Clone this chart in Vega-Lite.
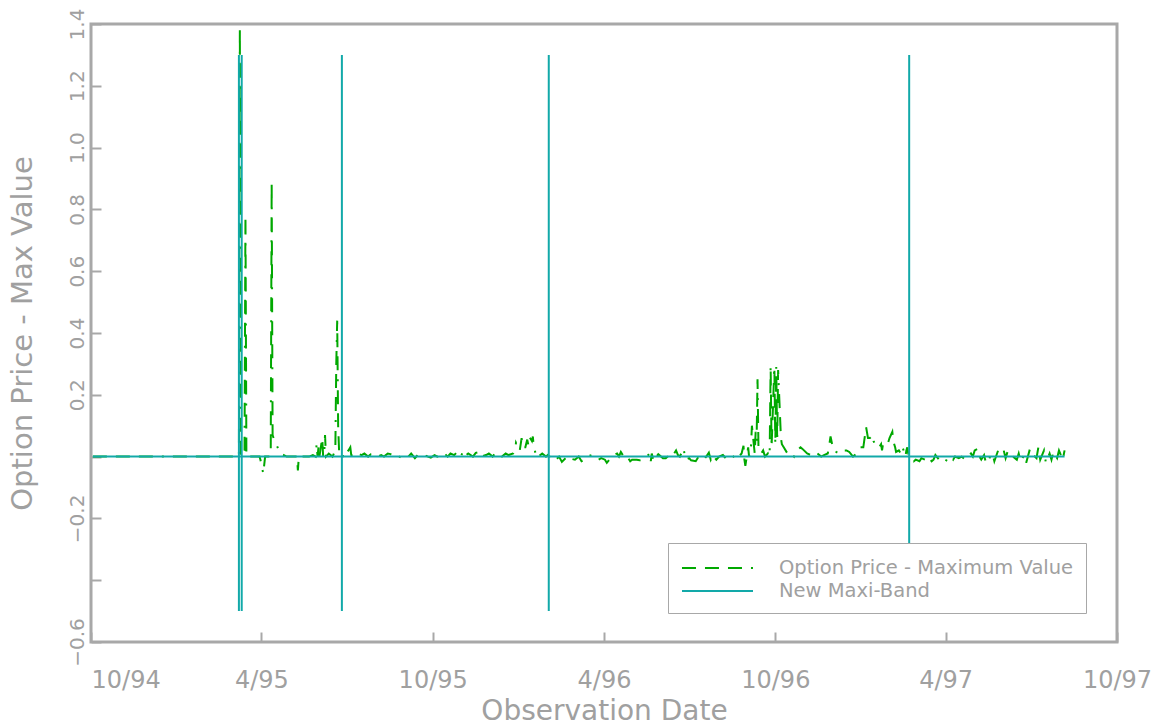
{
"$schema":"https://vega.github.io/schema/vega-lite/v6.json",
"width":1026,"height":618,
"autosize":{"type":"none"},
"padding":{"left":91,"top":24,"right":54,"bottom":83},
"background":"white",
"config":{
 "font":"DejaVu Sans",
 "view":{"stroke":"#a8a8a8","strokeWidth":3},
 "axis":{"domain":false,"grid":false,"tickColor":"#a8a8a8","tickWidth":2,"tickSize":-10,"labelColor":"#a0a0a0","titleColor":"#a0a0a0","titleFontWeight":"normal","labelFont":"DejaVu Sans","titleFont":"DejaVu Sans","labelOverlap":false,"labelBound":false,"labelFlush":false}
},
"encoding":{
 "x":{"field":"d","type":"temporal",
  "scale":{"type":"utc","domain":[{"year":1994,"month":10,"date":1,"utc":true},{"year":1997,"month":10,"date":1,"utc":true}]},
  "axis":{"values":[{"year":1994,"month":10,"date":1,"utc":true},{"year":1995,"month":4,"date":1,"utc":true},{"year":1995,"month":10,"date":1,"utc":true},{"year":1996,"month":4,"date":1,"utc":true},{"year":1996,"month":10,"date":1,"utc":true},{"year":1997,"month":4,"date":1,"utc":true},{"year":1997,"month":10,"date":1,"utc":true}],
   "labelExpr":"utcFormat(datum.value, '%-m/%y')","labelFontSize":24,"labelPadding":36,
   "labelAlign":{"condition":{"test":"datum.value < 788918400000","value":"left"},"value":"center"},
   "title":"Observation Date","titleFontSize":28,"titlePadding":5}},
 "y":{"field":"v","type":"quantitative",
  "scale":{"domain":[-0.6,1.4],"nice":false,"zero":false},
  "axis":{"values":[-0.6,-0.4,-0.2,0,0.2,0.4,0.6,0.8,1.0,1.2,1.4],
   "labelExpr":"abs(datum.value)<1e-6 || abs(datum.value+0.4)<1e-6 ? '' : format(datum.value,'.1f')",
   "labelAngle":-90,"labelAlign":"center","labelBaseline":"alphabetic","labelFontSize":20,"labelPadding":18,
   "title":"Option Price - Max Value","titleFontSize":29,"titlePadding":30}}
},
"layer":[
{"data":{"values":[
{"d":"1994-10-03","v":0},{"d":"1995-03-07","v":0},{"d":"1995-03-08","v":0},{"d":"1995-03-09","v":1.38},{"d":"1995-03-10","v":0},{"d":"1995-03-13","v":0.01},{"d":"1995-03-14","v":0.02},{"d":"1995-03-15","v":0.78},{"d":"1995-03-16","v":0},{"d":"1995-03-20","v":0},{"d":"1995-03-24","v":0},{"d":"1995-03-30","v":0},{"d":"1995-03-31","v":-0.01},{"d":"1995-04-03","v":-0.055},{"d":"1995-04-05","v":0},{"d":"1995-04-10","v":0},{"d":"1995-04-11","v":0.01},{"d":"1995-04-12","v":0.88},{"d":"1995-04-13","v":0.07},{"d":"1995-04-14","v":0.06},{"d":"1995-04-17","v":0.04},{"d":"1995-04-19","v":0.025},{"d":"1995-04-21","v":0.01},{"d":"1995-04-25","v":0.005},{"d":"1995-04-28","v":0},{"d":"1995-05-03","v":0},{"d":"1995-05-09","v":0},{"d":"1995-05-10","v":-0.045},{"d":"1995-05-11","v":0},{"d":"1995-05-16","v":0},{"d":"1995-05-22","v":0},{"d":"1995-05-26","v":0.005},{"d":"1995-05-29","v":0},{"d":"1995-05-30","v":0.04},{"d":"1995-05-31","v":0},{"d":"1995-06-01","v":0.03},{"d":"1995-06-02","v":0},{"d":"1995-06-05","v":0.06},{"d":"1995-06-06","v":0},{"d":"1995-06-07","v":0},{"d":"1995-06-08","v":0.07},{"d":"1995-06-09","v":0},{"d":"1995-06-12","v":0.01},{"d":"1995-06-16","v":0},{"d":"1995-06-19","v":0.02},{"d":"1995-06-20","v":0.3},{"d":"1995-06-21","v":0.44},{"d":"1995-06-22","v":0.1},{"d":"1995-06-23","v":0.02},{"d":"1995-06-26","v":0},{"d":"1995-06-27","v":0.005},{"d":"1995-06-28","v":-0.005},{"d":"1995-06-30","v":0.01},{"d":"1995-07-03","v":0.02},{"d":"1995-07-05","v":0.03},{"d":"1995-07-06","v":0.005},{"d":"1995-07-10","v":0},{"d":"1995-07-13","v":0.01},{"d":"1995-07-17","v":0.005},{"d":"1995-07-20","v":0.01},{"d":"1995-07-24","v":0},{"d":"1995-07-27","v":0.008},{"d":"1995-07-31","v":0.008},{"d":"1995-08-03","v":0},{"d":"1995-08-07","v":0.005},{"d":"1995-08-10","v":0},{"d":"1995-08-14","v":0.01},{"d":"1995-08-17","v":0.008},{"d":"1995-08-21","v":0},{"d":"1995-08-24","v":0.005},{"d":"1995-08-28","v":-0.003},{"d":"1995-08-31","v":0.005},{"d":"1995-09-05","v":0},{"d":"1995-09-08","v":0.01},{"d":"1995-09-12","v":-0.005},{"d":"1995-09-15","v":0.005},{"d":"1995-09-19","v":0},{"d":"1995-09-22","v":0.005},{"d":"1995-09-26","v":0},{"d":"1995-09-29","v":-0.003},{"d":"1995-10-03","v":0.005},{"d":"1995-10-06","v":0},{"d":"1995-10-10","v":0.005},{"d":"1995-10-13","v":0.012},{"d":"1995-10-17","v":0},{"d":"1995-10-20","v":0.01},{"d":"1995-10-24","v":0.005},{"d":"1995-10-27","v":0.015},{"d":"1995-10-31","v":0},{"d":"1995-11-03","v":0.02},{"d":"1995-11-06","v":0.005},{"d":"1995-11-08","v":0.01},{"d":"1995-11-13","v":0},{"d":"1995-11-16","v":0.012},{"d":"1995-11-20","v":0.015},{"d":"1995-11-22","v":0},{"d":"1995-11-27","v":0.005},{"d":"1995-11-30","v":0.01},{"d":"1995-12-04","v":0},{"d":"1995-12-07","v":0.012},{"d":"1995-12-11","v":0.005},{"d":"1995-12-14","v":0},{"d":"1995-12-18","v":0.01},{"d":"1995-12-21","v":0.005},{"d":"1995-12-26","v":0.01},{"d":"1995-12-28","v":0.02},{"d":"1995-12-29","v":0.045},{"d":"1996-01-02","v":0.02},{"d":"1996-01-04","v":0.06},{"d":"1996-01-05","v":0.03},{"d":"1996-01-08","v":0.03},{"d":"1996-01-10","v":0.055},{"d":"1996-01-11","v":0.04},{"d":"1996-01-12","v":0.065},{"d":"1996-01-15","v":0.05},{"d":"1996-01-16","v":0.065},{"d":"1996-01-17","v":0.03},{"d":"1996-01-19","v":0.01},{"d":"1996-01-22","v":0.02},{"d":"1996-01-24","v":0.005},{"d":"1996-01-26","v":0.01},{"d":"1996-01-30","v":0},{"d":"1996-02-01","v":0.005},{"d":"1996-02-02","v":0},{"d":"1996-02-05","v":0},{"d":"1996-02-07","v":-0.005},{"d":"1996-02-09","v":-0.012},{"d":"1996-02-13","v":0},{"d":"1996-02-16","v":-0.017},{"d":"1996-02-20","v":-0.005},{"d":"1996-02-23","v":-0.015},{"d":"1996-02-27","v":-0.008},{"d":"1996-03-01","v":-0.01},{"d":"1996-03-05","v":0},{"d":"1996-03-08","v":-0.015},{"d":"1996-03-12","v":-0.01},{"d":"1996-03-14","v":0},{"d":"1996-03-19","v":0.005},{"d":"1996-03-22","v":-0.005},{"d":"1996-03-26","v":-0.01},{"d":"1996-03-29","v":-0.005},{"d":"1996-04-02","v":-0.01},{"d":"1996-04-04","v":-0.02},{"d":"1996-04-08","v":-0.005},{"d":"1996-04-11","v":0.005},{"d":"1996-04-15","v":0.01},{"d":"1996-04-17","v":0},{"d":"1996-04-19","v":0.015},{"d":"1996-04-22","v":0},{"d":"1996-04-24","v":-0.005},{"d":"1996-04-26","v":0},{"d":"1996-04-29","v":-0.015},{"d":"1996-05-01","v":-0.01},{"d":"1996-05-06","v":-0.01},{"d":"1996-05-09","v":-0.012},{"d":"1996-05-13","v":-0.01},{"d":"1996-05-15","v":-0.008},{"d":"1996-05-17","v":0},{"d":"1996-05-20","v":0.012},{"d":"1996-05-21","v":-0.015},{"d":"1996-05-22","v":0.01},{"d":"1996-05-24","v":-0.015},{"d":"1996-05-27","v":0},{"d":"1996-05-29","v":0.008},{"d":"1996-06-03","v":-0.005},{"d":"1996-06-06","v":-0.005},{"d":"1996-06-10","v":0.005},{"d":"1996-06-13","v":0},{"d":"1996-06-17","v":0.02},{"d":"1996-06-19","v":0.005},{"d":"1996-06-21","v":0},{"d":"1996-06-25","v":0.027},{"d":"1996-06-27","v":-0.01},{"d":"1996-07-01","v":-0.005},{"d":"1996-07-03","v":-0.012},{"d":"1996-07-08","v":-0.015},{"d":"1996-07-11","v":0},{"d":"1996-07-15","v":-0.01},{"d":"1996-07-18","v":-0.005},{"d":"1996-07-22","v":0.013},{"d":"1996-07-24","v":-0.01},{"d":"1996-07-26","v":0.005},{"d":"1996-07-30","v":-0.01},{"d":"1996-08-02","v":0},{"d":"1996-08-06","v":0.005},{"d":"1996-08-09","v":-0.005},{"d":"1996-08-13","v":-0.012},{"d":"1996-08-16","v":-0.005},{"d":"1996-08-20","v":0.01},{"d":"1996-08-23","v":0},{"d":"1996-08-26","v":0.01},{"d":"1996-08-28","v":0.035},{"d":"1996-08-29","v":-0.01},{"d":"1996-08-30","v":-0.03},{"d":"1996-09-02","v":0.03},{"d":"1996-09-03","v":0},{"d":"1996-09-04","v":0.02},{"d":"1996-09-05","v":0.03},{"d":"1996-09-06","v":0.1},{"d":"1996-09-09","v":0.01},{"d":"1996-09-10","v":0.08},{"d":"1996-09-11","v":0.05},{"d":"1996-09-12","v":0.25},{"d":"1996-09-13","v":0.03},{"d":"1996-09-16","v":0.01},{"d":"1996-09-18","v":0.02},{"d":"1996-09-20","v":0},{"d":"1996-09-23","v":0.01},{"d":"1996-09-24","v":0},{"d":"1996-09-25","v":0.02},{"d":"1996-09-26","v":0.295},{"d":"1996-09-27","v":0.03},{"d":"1996-09-30","v":0.29},{"d":"1996-10-01","v":0.04},{"d":"1996-10-02","v":0.29},{"d":"1996-10-03","v":0.05},{"d":"1996-10-04","v":0.28},{"d":"1996-10-07","v":0.06},{"d":"1996-10-08","v":0.04},{"d":"1996-10-10","v":0.03},{"d":"1996-10-14","v":0.01},{"d":"1996-10-17","v":0.015},{"d":"1996-10-21","v":0},{"d":"1996-10-24","v":0.02},{"d":"1996-10-28","v":0.03},{"d":"1996-10-30","v":0.025},{"d":"1996-11-04","v":0.01},{"d":"1996-11-08","v":0.005},{"d":"1996-11-12","v":0.015},{"d":"1996-11-15","v":0.01},{"d":"1996-11-19","v":0},{"d":"1996-11-22","v":0.005},{"d":"1996-11-26","v":0.01},{"d":"1996-11-27","v":0.025},{"d":"1996-11-29","v":0.065},{"d":"1996-12-02","v":0.02},{"d":"1996-12-05","v":0.015},{"d":"1996-12-09","v":0.01},{"d":"1996-12-12","v":0.02},{"d":"1996-12-16","v":0.02},{"d":"1996-12-19","v":0.015},{"d":"1996-12-23","v":0},{"d":"1996-12-27","v":0.01},{"d":"1996-12-31","v":0.03},{"d":"1997-01-03","v":0.03},{"d":"1997-01-06","v":0.095},{"d":"1997-01-08","v":0.06},{"d":"1997-01-10","v":0.06},{"d":"1997-01-13","v":0.07},{"d":"1997-01-14","v":0.05},{"d":"1997-01-16","v":0.035},{"d":"1997-01-17","v":0.03},{"d":"1997-01-20","v":0.03},{"d":"1997-01-22","v":0.04},{"d":"1997-01-23","v":0.02},{"d":"1997-01-24","v":0.04},{"d":"1997-01-27","v":0.035},{"d":"1997-01-29","v":0.04},{"d":"1997-01-31","v":0.06},{"d":"1997-02-03","v":0.08},{"d":"1997-02-04","v":0.05},{"d":"1997-02-06","v":0.03},{"d":"1997-02-07","v":0.015},{"d":"1997-02-10","v":0.02},{"d":"1997-02-12","v":0.01},{"d":"1997-02-14","v":0.03},{"d":"1997-02-17","v":0},{"d":"1997-02-18","v":0.02},{"d":"1997-02-19","v":0.03},{"d":"1997-02-20","v":0.01},{"d":"1997-02-21","v":0},{"d":"1997-02-24","v":-0.005},{"d":"1997-02-26","v":-0.015},{"d":"1997-02-28","v":-0.01},{"d":"1997-03-04","v":-0.015},{"d":"1997-03-06","v":-0.005},{"d":"1997-03-10","v":-0.01},{"d":"1997-03-13","v":0},{"d":"1997-03-17","v":-0.015},{"d":"1997-03-19","v":-0.01},{"d":"1997-03-21","v":0.005},{"d":"1997-03-25","v":-0.01},{"d":"1997-03-28","v":-0.005},{"d":"1997-04-01","v":-0.015},{"d":"1997-04-03","v":-0.005},{"d":"1997-04-07","v":0},{"d":"1997-04-09","v":-0.01},{"d":"1997-04-11","v":0},{"d":"1997-04-15","v":-0.005},{"d":"1997-04-18","v":0},{"d":"1997-04-22","v":-0.01},{"d":"1997-04-25","v":0},{"d":"1997-04-28","v":0.01},{"d":"1997-04-30","v":0},{"d":"1997-05-02","v":0.02},{"d":"1997-05-05","v":0.025},{"d":"1997-05-07","v":0},{"d":"1997-05-09","v":-0.01},{"d":"1997-05-12","v":0.005},{"d":"1997-05-14","v":-0.02},{"d":"1997-05-16","v":-0.02},{"d":"1997-05-19","v":0.005},{"d":"1997-05-21","v":0.01},{"d":"1997-05-23","v":-0.015},{"d":"1997-05-27","v":0.02},{"d":"1997-05-29","v":0.01},{"d":"1997-06-02","v":0.02},{"d":"1997-06-04","v":-0.005},{"d":"1997-06-06","v":0.015},{"d":"1997-06-10","v":0.015},{"d":"1997-06-12","v":0},{"d":"1997-06-16","v":-0.01},{"d":"1997-06-18","v":0.01},{"d":"1997-06-20","v":-0.015},{"d":"1997-06-24","v":0.005},{"d":"1997-06-26","v":-0.02},{"d":"1997-06-30","v":0.025},{"d":"1997-07-02","v":0.01},{"d":"1997-07-07","v":-0.005},{"d":"1997-07-09","v":0.03},{"d":"1997-07-11","v":-0.01},{"d":"1997-07-15","v":0.02},{"d":"1997-07-17","v":-0.02},{"d":"1997-07-21","v":0.01},{"d":"1997-07-23","v":-0.01},{"d":"1997-07-25","v":0.015},{"d":"1997-07-29","v":-0.005},{"d":"1997-07-31","v":0.02},{"d":"1997-08-04","v":-0.01},{"d":"1997-08-06","v":0.02}
]},
"mark":{"type":"line","strokeWidth":2},
"encoding":{
 "color":{"datum":"Option Price - Maximum Value","scale":{"domain":["Option Price - Maximum Value","New Maxi-Band"],"range":["#00a800","#12a9a9"]},
  "legend":{"title":null,"orient":"none","legendX":577,"legendY":519,"fillColor":"white","strokeColor":"#a8a8a8","padding":12,"symbolType":"M-2.96,0H2.96","symbolSize":576,"symbolStrokeWidth":2,"symbolOffset":24.5,"labelOffset":48.5,"labelFontSize":19.5,"labelLimit":0,"labelColor":"#a0a0a0","labelFont":"DejaVu Sans","rowPadding":0}},
 "strokeDash":{"datum":"Option Price - Maximum Value","scale":{"domain":["Option Price - Maximum Value","New Maxi-Band"],"range":[[14,9,14,9,14,9,2,9],[1,0]]},
  "legend":{"title":null,"orient":"none","legendX":577,"legendY":519,"fillColor":"white","strokeColor":"#a8a8a8","padding":12,"symbolType":"M-2.96,0H2.96","symbolSize":576,"symbolStrokeWidth":2,"symbolOffset":24.5,"labelOffset":48.5,"labelFontSize":19.5,"labelLimit":0,"labelColor":"#a0a0a0","labelFont":"DejaVu Sans","rowPadding":0}}
}},
{"data":{"values":[
{"i":0,"d":"1994-10-03","v":0},{"i":1,"d":"1995-03-08","v":0},{"i":2,"d":"1995-03-08","v":1.3},{"i":3,"d":"1995-03-08","v":-0.5},{"i":4,"d":"1995-03-08","v":0},{"i":5,"d":"1995-03-11","v":0},{"i":6,"d":"1995-03-11","v":1.3},{"i":7,"d":"1995-03-11","v":-0.5},{"i":8,"d":"1995-03-11","v":0},{"i":9,"d":"1995-06-26","v":0},{"i":10,"d":"1995-06-26","v":1.3},{"i":11,"d":"1995-06-26","v":-0.5},{"i":12,"d":"1995-06-26","v":0},{"i":13,"d":"1996-02-02","v":0},{"i":14,"d":"1996-02-02","v":1.3},{"i":15,"d":"1996-02-02","v":-0.5},{"i":16,"d":"1996-02-02","v":0},{"i":17,"d":"1997-02-21","v":0},{"i":18,"d":"1997-02-21","v":1.3},{"i":19,"d":"1997-02-21","v":-0.5},{"i":20,"d":"1997-02-21","v":0},{"i":21,"d":"1997-08-06","v":0}
]},
"mark":{"type":"line","strokeWidth":2},
"encoding":{
 "color":{"datum":"New Maxi-Band"},
 "strokeDash":{"datum":"New Maxi-Band"},
 "order":{"field":"i","type":"quantitative"}
}}
]
}
